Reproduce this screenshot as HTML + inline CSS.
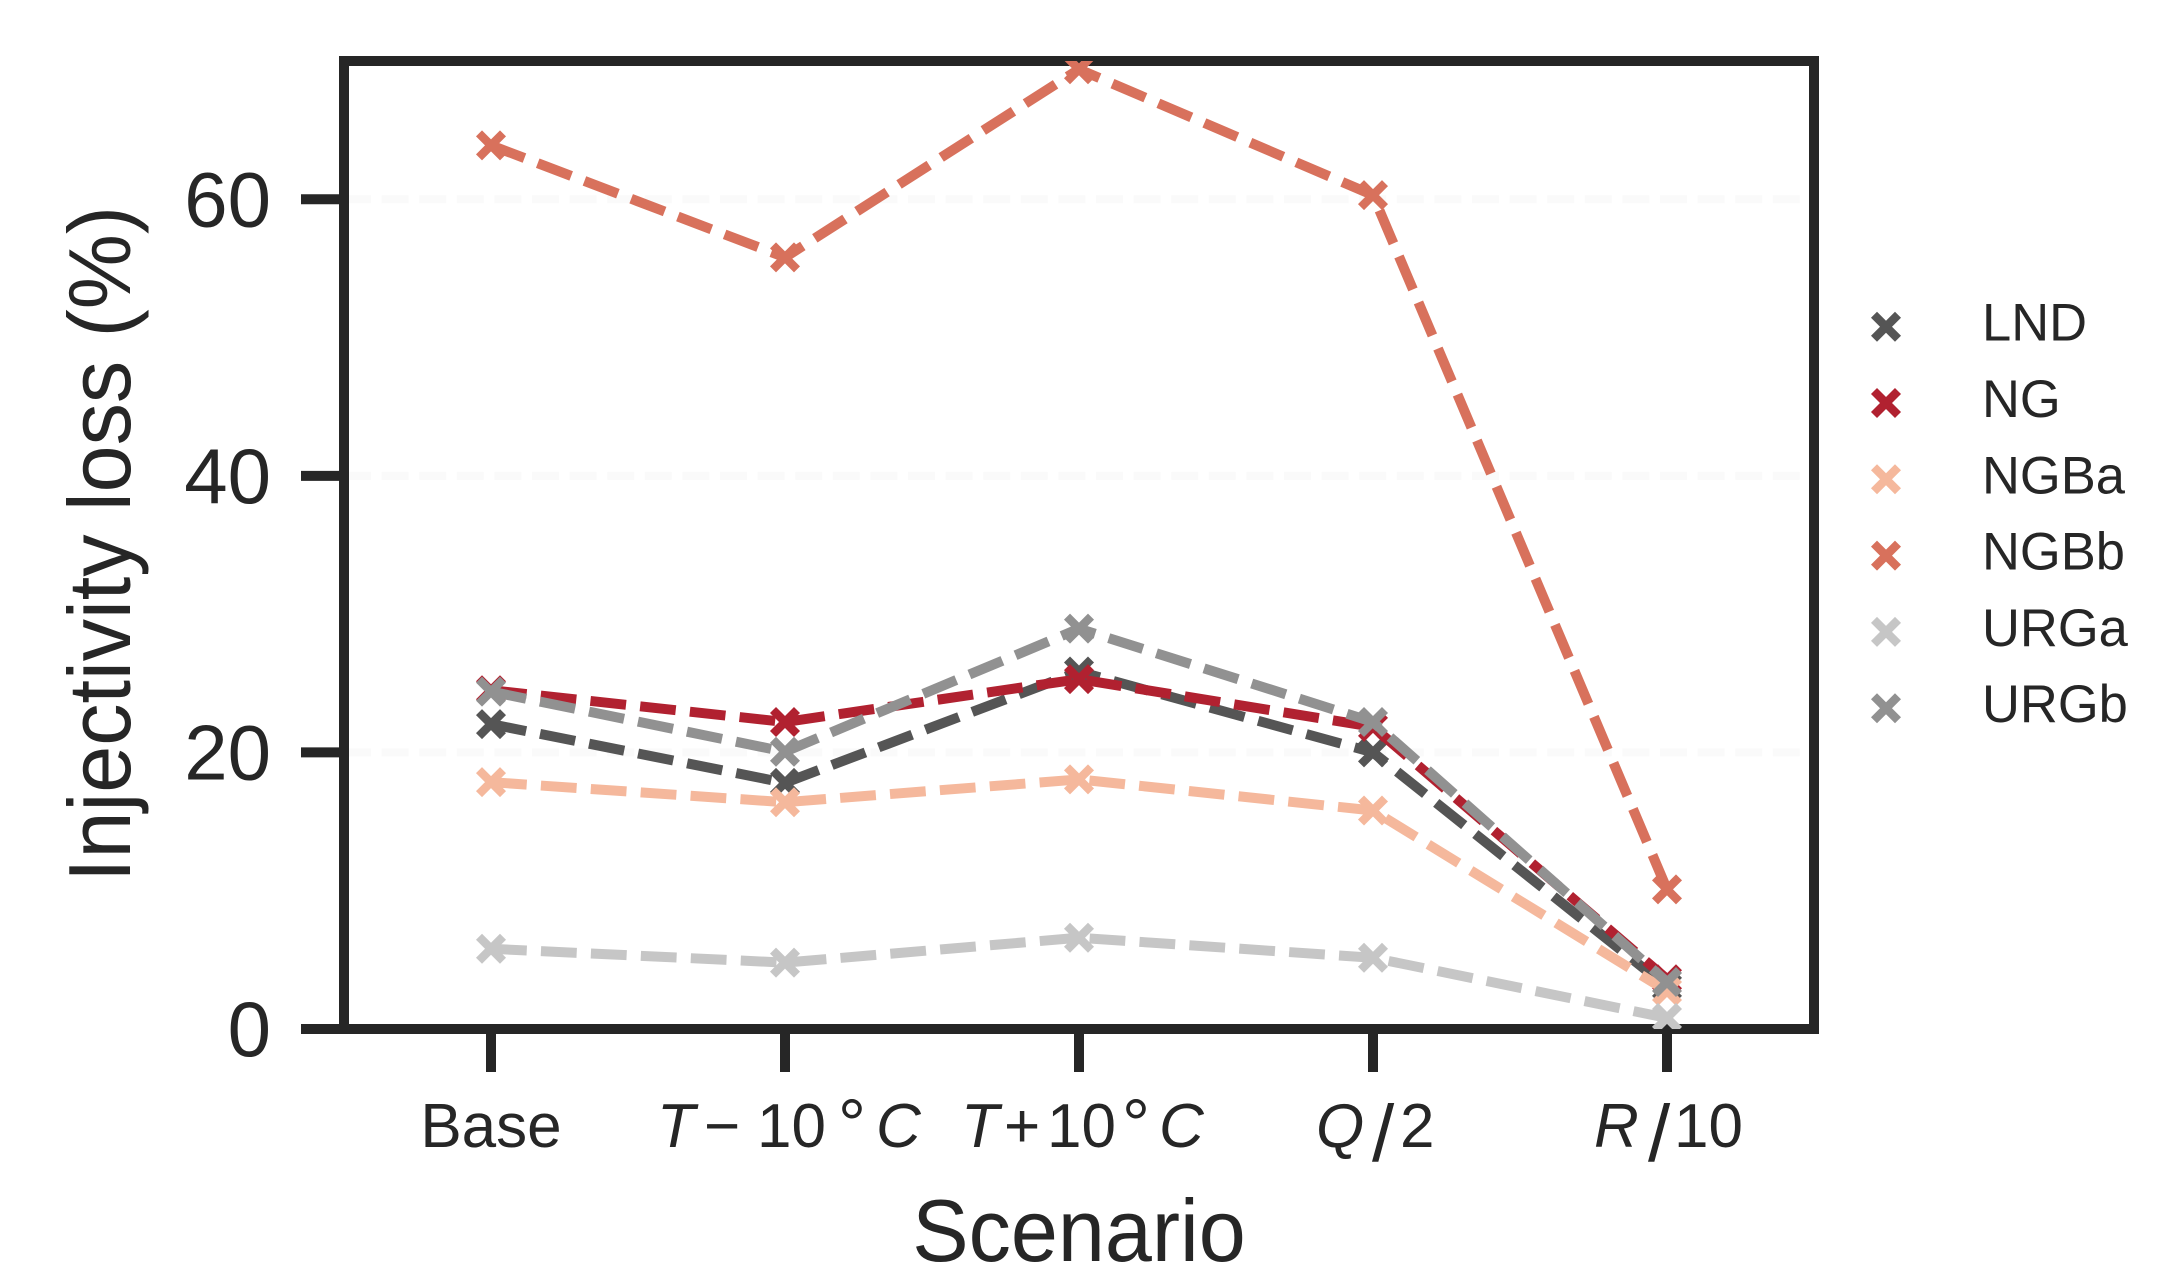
<!DOCTYPE html>
<html lang="en">
<head>
<meta charset="utf-8">
<title>Injectivity loss by scenario</title>
<style>
  html, body { margin: 0; padding: 0; background: #ffffff; }
  svg { display: block; }
  text { font-family: "Liberation Sans", sans-serif; fill: #262626; }
</style>
</head>
<body>
<svg id="chart" xmlns="http://www.w3.org/2000/svg" width="2168" height="1284" viewBox="0 0 2168 1284">
  <defs>
    <clipPath id="plot-clip"><rect x="344" y="61" width="1470" height="968"></rect></clipPath>
  </defs>
  <rect x="0" y="0" width="2168" height="1284" fill="#ffffff"></rect>
  <g id="grid"></g>
  <rect x="344" y="61" width="1470" height="968" fill="none" stroke="#262626" stroke-width="10"></rect>
  <g id="ticks"></g>
  <g id="series" clip-path="url(#plot-clip)"></g>
  <g id="legend"></g>
  <text font-size="88" text-anchor="middle" transform="translate(1079 1261) scale(0.96 1)">Scenario</text>
  <text font-size="88" text-anchor="middle" transform="translate(130 544) rotate(-90) scale(0.96 1)">Injectivity loss (%)</text>
</svg>
<script>
const categories = ['Base', 'T-10C', 'T+10C', 'Q/2', 'R/10'];
const yTickValues = [0, 20, 40, 60];
const gridValues = [20, 40, 60];
const seriesNames = ['LND', 'NG', 'NGBa', 'NGBb', 'URGa', 'URGb'];
const seriesColors = ['#555555', '#b12130', '#f5b89c', '#d8715c', '#c6c6c6', '#919191'];
const valuesLND = [22.05, 17.8, 25.85, 20.0, 3.05];
const valuesNG = [24.5, 22.2, 25.3, 21.85, 3.6];
const valuesNGBa = [17.85, 16.4, 18.05, 15.8, 2.75];
const valuesNGBb = [63.9, 55.8, 69.4, 60.3, 10.1];
const valuesURGa = [5.8, 4.8, 6.6, 5.15, 0.8];
const valuesURGb = [24.4, 20.05, 28.95, 22.2, 3.4];
const seriesValues = [valuesLND, valuesNG, valuesNGBa, valuesNGBb, valuesURGa, valuesURGb];

const NS = 'http://www.w3.org/2000/svg';
const yMax = 70;
function xScale(i) { return 491 + i * 294; }
function yScale(v) { return 1029 - (v / yMax) * 968; }

function make(tag, parent) {
  const el = document.createElementNS(NS, tag);
  parent.appendChild(el);
  return el;
}

function drawCross(parent, cx, cy, color) {
  const a = 12;
  const p = make('path', parent);
  
  
  p.setAttribute('d', 'M' + (cx - a) + ' ' + (cy - a) + 'L' + (cx + a) + ' ' + (cy + a) + 'M' + (cx - a) + ' ' + (cy + a) + 'L' + (cx + a) + ' ' + (cy - a));
  p.setAttribute('stroke', color);
  p.setAttribute('stroke-width', '8.5');
  p.setAttribute('fill', 'none');
}

const gridGroup = document.getElementById('grid');
gridValues.forEach(function (v) {
  const l = make('line', gridGroup);
  
  
  l.setAttribute('x1', 344);
  l.setAttribute('x2', 1814);
  l.setAttribute('y1', yScale(v));
  l.setAttribute('y2', yScale(v));
  l.setAttribute('stroke', '#fafafa');
  l.setAttribute('stroke-width', '8');
  l.setAttribute('stroke-dasharray', '27 10.6');
});

const tickGroup = document.getElementById('ticks');
yTickValues.forEach(function (v) {
  const t = make('line', tickGroup);
  
  
  t.setAttribute('x1', 301);
  t.setAttribute('x2', 344);
  t.setAttribute('y1', yScale(v));
  t.setAttribute('y2', yScale(v));
  t.setAttribute('stroke', '#262626');
  t.setAttribute('stroke-width', '10');
  const lab = make('text', tickGroup);
  
  
  lab.setAttribute('x', 271);
  lab.setAttribute('y', yScale(v) + 27);
  lab.setAttribute('font-size', '78');
  lab.setAttribute('text-anchor', 'end');
  lab.textContent = String(v);
});

categories.forEach(function (c, i) {
  const t = make('line', tickGroup);
  
  
  t.setAttribute('x1', xScale(i));
  t.setAttribute('x2', xScale(i));
  t.setAttribute('y1', 1029);
  t.setAttribute('y2', 1072);
  t.setAttribute('stroke', '#262626');
  t.setAttribute('stroke-width', '10');
});

function piece(parent, name, str, dx, tickX, opts) {
  const el = make('text', parent);
  
  
  el.setAttribute('x', tickX + dx);
  el.setAttribute('y', opts.y || 1147);
  el.setAttribute('font-size', opts.size || 62);
  if (opts.italic) el.setAttribute('font-style', 'italic');
  if (opts.anchor) el.setAttribute('text-anchor', opts.anchor);
  el.textContent = str;
}

const g0 = make('g', tickGroup);


piece(g0, 'base-label', 'Base', 0, xScale(0), { anchor: 'middle' });

const g1 = make('g', tickGroup);


piece(g1, 'symbol-t', 'T', -128, xScale(1), { italic: true });
piece(g1, 'minus-sign', '\u2212', -81, xScale(1), {});
piece(g1, 'value-10', '10', -28, xScale(1), {});
piece(g1, 'degree-sign', '\u00b0', 53, xScale(1), { size: 70, y: 1148 });
piece(g1, 'symbol-c', 'C', 91, xScale(1), { italic: true });

const g2 = make('g', tickGroup);


piece(g2, 'symbol-t', 'T', -118, xScale(2), { italic: true });
piece(g2, 'plus-sign', '+', -75, xScale(2), {});
piece(g2, 'value-10', '10', -32, xScale(2), {});
piece(g2, 'degree-sign', '\u00b0', 43, xScale(2), { size: 70, y: 1148 });
piece(g2, 'symbol-c', 'C', 80, xScale(2), { italic: true });

const g3 = make('g', tickGroup);


piece(g3, 'symbol-q', 'Q', -57, xScale(3), { italic: true });
piece(g3, 'slash', '/', -1, xScale(3), { size: 80, y: 1161 });
piece(g3, 'value-2', '2', 27, xScale(3), {});

const g4 = make('g', tickGroup);


piece(g4, 'symbol-r', 'R', -73, xScale(4), { italic: true });
piece(g4, 'slash', '/', -19, xScale(4), { size: 80, y: 1161 });
piece(g4, 'value-10', '10', 7, xScale(4), {});

const seriesGroup = document.getElementById('series');
seriesNames.forEach(function (name, s) {
  const g = make('g', seriesGroup);
  
  
  const line = make('polyline', g);
  
  
  line.setAttribute('points', seriesValues[s].map(function (v, i) { return xScale(i) + ',' + yScale(v); }).join(' '));
  line.setAttribute('fill', 'none');
  line.setAttribute('stroke', seriesColors[s]);
  line.setAttribute('stroke-width', '10');
  line.setAttribute('stroke-dasharray', '35.8 14.2');
  line.setAttribute('stroke-linejoin', 'round');
  seriesValues[s].forEach(function (v, i) {
    drawCross(g, xScale(i), yScale(v), seriesColors[s]);
  });
});

const legendGroup = document.getElementById('legend');
seriesNames.forEach(function (name, s) {
  const g = make('g', legendGroup);
  
  
  const y = 326.7 + s * 76.3;
  drawCross(g, 1886, y, seriesColors[s]);
  const t = make('text', g);
  
  
  t.setAttribute('x', 1982);
  t.setAttribute('y', y + 14);
  t.setAttribute('font-size', '52.5');
  t.textContent = name;
});
</script>
</body>
</html>
